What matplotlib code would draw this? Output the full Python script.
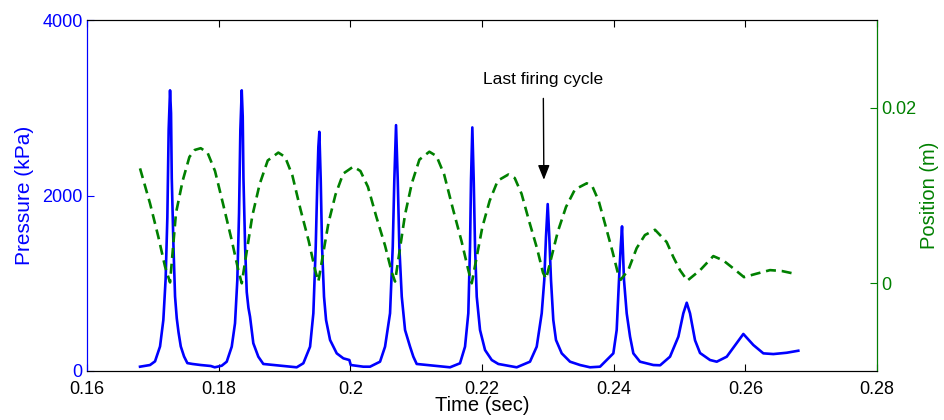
import matplotlib
matplotlib.use('Agg')
import matplotlib.pyplot as plt

plt.rcParams['font.family'] = ['Liberation Sans', 'DejaVu Sans']

# pressure trace (sec, kPa)
t_pressure = [
    0.16805, 0.16957, 0.17033, 0.17109, 0.17159, 0.17194, 0.17220, 0.17240, 0.17261,
    0.17276, 0.17287, 0.17313, 0.17337, 0.17363, 0.17390, 0.17424, 0.17474, 0.17524,
    0.17601, 0.17727, 0.17879,
    0.17940, 0.18046, 0.18122, 0.18198, 0.18248, 0.18283, 0.18309, 0.18329, 0.18350,
    0.18365, 0.18376, 0.18402, 0.18426, 0.18452, 0.18476, 0.18526, 0.18602, 0.18678,
    0.18882, 0.19034, 0.19185,
    0.19286, 0.19388, 0.19438, 0.19474, 0.19499, 0.19514, 0.19529,
    0.19550, 0.19570, 0.19600, 0.19631, 0.19692, 0.19793, 0.19894, 0.19985, 0.20006,
    0.20197,
    0.20299, 0.20451, 0.20527, 0.20603, 0.20644, 0.20668, 0.20694,
    0.20720, 0.20744, 0.20781, 0.20831, 0.20907, 0.20957, 0.21008, 0.21312, 0.21514,
    0.21666, 0.21742, 0.21792, 0.21818, 0.21833, 0.21853,
    0.21874, 0.21894, 0.21920, 0.21970, 0.22046, 0.22148, 0.22248, 0.22527,
    0.22729, 0.22831, 0.22907, 0.22946, 0.22972, 0.22998,
    0.23022, 0.23048, 0.23083, 0.23124, 0.23211, 0.23337, 0.23489, 0.23641,
    0.23793, 0.23995, 0.24046, 0.24081, 0.24107, 0.24127,
    0.24157, 0.24198, 0.24249, 0.24299, 0.24400, 0.24603, 0.24706,
    0.24856, 0.24983, 0.25058, 0.25110, 0.25160, 0.25236, 0.25312, 0.25464, 0.25566,
    0.25718, 0.25870, 0.25970, 0.26122, 0.26274, 0.26426, 0.26629, 0.26805,
]
pressure = [
    49, 68, 110, 280, 580, 1050, 1750, 2750, 3200,
    2940, 2200, 1420, 850, 600, 440, 280, 165, 90,
    80, 68, 57,
    42, 60, 106, 277, 544, 1037, 1797, 2746, 3200,
    2900, 2200, 1400, 900, 720, 619, 316, 163, 80,
    65, 55, 42,
    88, 277, 658, 1417, 2177, 2556, 2727,
    2177, 1417, 847, 581, 353, 201, 144, 125, 68,
    49,
    49, 106, 277, 658, 1417, 2177, 2803,
    2177, 1417, 847, 467, 277, 163, 80, 57, 42,
    88, 277, 658, 1417, 2177, 2777,
    2177, 1417, 847, 467, 239, 125, 80, 42,
    106, 277, 658, 1037, 1530, 1903,
    1530, 1037, 581, 353, 201, 106, 68, 42,
    49, 201, 467, 1037, 1418, 1649,
    1037, 657, 391, 201, 106, 68, 65,
    163, 391, 657, 778, 657, 350, 205, 125, 106,
    163, 319, 422, 296, 201, 193, 208, 231,
]

# position trace (sec, m)
t_position = [
    0.16805, 0.16957, 0.17083, 0.17185, 0.17261,
    0.17351, 0.17453, 0.17555, 0.17636, 0.17727, 0.17830, 0.17944, 0.18071, 0.18198, 0.18298, 0.18350,
    0.18511, 0.18622, 0.18745, 0.18906, 0.19009, 0.19119, 0.19240, 0.19368, 0.19465, 0.19514,
    0.19668, 0.19774, 0.19891, 0.20045, 0.20153, 0.20267, 0.20394, 0.20527, 0.20628, 0.20679,
    0.20830, 0.20934, 0.21049, 0.21200, 0.21309, 0.21425, 0.21554, 0.21689, 0.21792, 0.21844,
    0.22005, 0.22116, 0.22239, 0.22400, 0.22497, 0.22601, 0.22715, 0.22835, 0.22927, 0.22973,
    0.23152, 0.23276, 0.23412, 0.23591, 0.23679, 0.23772, 0.23875, 0.23983, 0.24066, 0.24107,
    0.24222, 0.24349, 0.24475, 0.24628, 0.24805, 0.24906, 0.25007, 0.25119,
    0.25314, 0.25514, 0.25666, 0.25817, 0.25980,
    0.26173, 0.26375, 0.26553, 0.26740,
]
position = [
    0.0131, 0.0091, 0.0053, 0.0019, 0.0001,
    0.0080, 0.0117, 0.0144, 0.0152, 0.0154, 0.0149, 0.0128, 0.0089, 0.0049, 0.0015, 0.0000,
    0.0077, 0.0113, 0.0140, 0.0149, 0.0144, 0.0123, 0.0085, 0.0048, 0.0015, 0.0002,
    0.0069, 0.0101, 0.0125, 0.0133, 0.0128, 0.0110, 0.0076, 0.0043, 0.0013, 0.0002,
    0.0078, 0.0114, 0.0141, 0.0150, 0.0145, 0.0124, 0.0086, 0.0048, 0.0015, 0.0000,
    0.0064, 0.0094, 0.0117, 0.0124, 0.0120, 0.0102, 0.0071, 0.0040, 0.0012, 0.0005,
    0.0059, 0.0087, 0.0107, 0.0114, 0.0110, 0.0094, 0.0066, 0.0036, 0.0011, 0.0004,
    0.0015, 0.0040, 0.0055, 0.0061, 0.0047, 0.0030, 0.0015, 0.0003,
    0.0015, 0.0031, 0.0026, 0.0017, 0.0007,
    0.0011, 0.0015, 0.0014, 0.0011,
]

x_ticks = [0.16, 0.18, 0.2, 0.22, 0.24, 0.26, 0.28]
x_labels = ['0.16', '0.18', '0.2', '0.22', '0.24', '0.26', '0.28']
p_ticks = [0, 2000, 4000]
pos_ticks = [0, 0.02]
pos_labels = ['0', '0.02']

blue = '#0000ff'
green = '#008000'

fig = plt.figure(figsize=(9.44, 4.2), dpi=100)
ax = fig.add_axes([0.0922, 0.1167, 0.8368, 0.8353])
ax.plot(t_pressure, pressure, color=blue, lw=1.9)
ax.set_xlim(0.16, 0.28)
ax.set_ylim(0, 4000)
ax.set_xticks(x_ticks)
ax.set_xticklabels(x_labels)
ax.set_yticks(p_ticks)
ax.tick_params(axis='x', direction='in', top=True, length=5, labelsize=13, pad=7)
ax.tick_params(axis='y', direction='in', right=True, length=5, colors=blue, labelsize=13, pad=3)
ax.spines['left'].set_color(blue)
ax.set_xlabel('Time (sec)', fontsize=14.5, labelpad=-1)
ax.set_ylabel('Pressure (kPa)', fontsize=15, color=blue, labelpad=6)

ax2 = ax.twinx()
ax2.plot(t_position, position, color=green, lw=1.9, linestyle=(0, (3.8, 2.2)))
ax2.set_ylim(-0.01, 0.03)
ax2.set_yticks(pos_ticks)
ax2.set_yticklabels(pos_labels)
ax2.tick_params(axis='y', direction='in', length=5, colors=green, labelsize=13, pad=3)
ax2.spines['right'].set_color(green)
ax2.spines['left'].set_color(blue)
ax2.set_ylabel('Position (m)', fontsize=14.5, color=green, labelpad=3)

ax.annotate('Last firing cycle', xy=(0.2294, 2180), xytext=(0.2293, 3320),
            ha='center', va='center', fontsize=12.5,
            arrowprops=dict(arrowstyle='-|>,head_length=0.55,head_width=0.22',
                            color='black', lw=1, mutation_scale=16,
                            shrinkA=6, shrinkB=0))

fig.savefig('out.png', dpi=100)
